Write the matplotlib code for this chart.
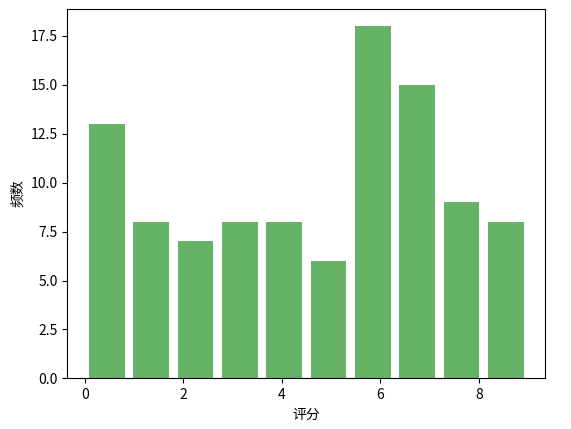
import matplotlib
matplotlib.use('Agg')
import matplotlib.pyplot as plt
import numpy as np

plt.rcParams['font.family'] = ['Noto Sans CJK SC', 'DejaVu Sans']
plt.rcParams['axes.unicode_minus'] = False

bin_edges = np.linspace(0, 9, 11)
counts = [13, 8, 7, 8, 8, 6, 18, 15, 9, 8]
centers = (bin_edges[:-1] + bin_edges[1:]) / 2

fig, ax = plt.subplots(figsize=(5.71, 4.29), dpi=100)
ax.hist(centers, bins=bin_edges, weights=counts, rwidth=0.8, color='green', alpha=0.6)
ax.set_xlabel('评分')
ax.set_ylabel('频数')
fig.subplots_adjust(left=0.118, right=0.955, top=0.98, bottom=0.118)
fig.savefig('out.png')
